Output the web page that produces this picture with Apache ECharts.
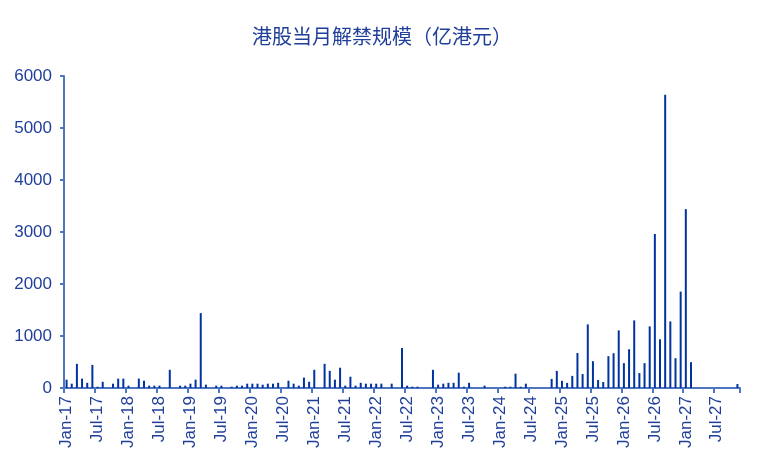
<!DOCTYPE html>
<html>
<head>
<meta charset="utf-8">
<script src="https://cdn.jsdelivr.net/npm/echarts@6/dist/echarts.min.js"></script>
<style>
html,body{margin:0;padding:0;background:#fff;}
#c{width:764px;height:463px;}
</style>
</head>
<body>
<div id="c"></div>
<script>
var title = '港股当月解禁规模（亿港元）';
var years = ['17','18','19','20','21','22','23','24','25','26','27'];
var monthNames = ['Jan','Feb','Mar','Apr','May','Jun','Jul','Aug','Sep','Oct','Nov','Dec'];
var lastYearMonths = 11; // data runs Jan-17 .. Nov-27
var yTicks = [0, 1000, 2000, 3000, 4000, 5000, 6000];

// 亿港元, monthly, Jan-17 .. Nov-27
var unlockValues = [
  160, 83, 465, 180, 100, 445, 25, 120, 0, 83, 180, 180,      // 2017
  45, 0, 180, 140, 45, 45, 45, 0, 350, 0, 45, 45,             // 2018
  83, 160, 1440, 64, 0, 45, 45, 0, 25, 45, 45, 83,            // 2019
  83, 83, 64, 83, 83, 100, 0, 140, 83, 45, 200, 120,          // 2020
  350, 0, 465, 330, 160, 390, 45, 217, 45, 100, 83, 83,       // 2021
  83, 83, 0, 83, 0, 770, 45, 25, 25, 0, 0, 350,               // 2022
  64, 83, 100, 100, 295, 25, 100, 0, 0, 45, 0, 0,             // 2023
  0, 25, 25, 275, 25, 83, 0, 0, 0, 0, 175, 328,               // 2024
  137, 98, 233, 672, 268, 1223, 516, 153, 115, 612, 669, 1108,// 2025
  478, 745, 1300, 287, 478, 1185, 2962, 936, 5640, 1280, 573, 1854, // 2026
  3440, 497, 0, 0, 0, 0, 0, 0, 0, 0, 76                       // 2027
];

var categories = [];
years.forEach(function (y, yi) {
  var n = (yi === years.length - 1) ? lastYearMonths : 12;
  for (var m = 0; m < n; m++) categories.push(monthNames[m] + '-' + y);
});

var textColor = '#1f3f99';
var axisColor = '#4f76c0';
var barColor = '#0033a0';

var chart = echarts.init(document.getElementById('c'), null, {renderer: 'canvas'});
chart.setOption({
  animation: false,
  backgroundColor: '#ffffff',
  title: {
    text: title,
    left: 'center',
    top: 21,
    textStyle: {
      color: textColor,
      fontSize: 20,
      fontWeight: 'normal',
      fontFamily: '"Noto Sans CJK SC", sans-serif'
    }
  },
  grid: {left: 64, right: 24, top: 76, bottom: 75, containLabel: false},
  xAxis: {
    type: 'category',
    data: categories,
    boundaryGap: true,
    axisLine: {show: true, lineStyle: {color: axisColor, width: 2}},
    axisTick: {show: true, interval: 5, length: 5, lineStyle: {color: axisColor, width: 2}},
    axisLabel: {
      interval: 5,
      rotate: 90,
      margin: 8,
      color: textColor,
      fontSize: 17,
      fontFamily: '"Liberation Sans", Arial, sans-serif'
    },
    splitLine: {show: false}
  },
  yAxis: {
    type: 'value',
    min: yTicks[0],
    max: yTicks[yTicks.length - 1],
    interval: 1000,
    axisLine: {show: true, lineStyle: {color: axisColor, width: 2}},
    axisTick: {show: true, length: 4, lineStyle: {color: axisColor, width: 2}},
    axisLabel: {
      margin: 12,
      color: textColor,
      fontSize: 17,
      fontFamily: '"Liberation Sans", Arial, sans-serif',
      formatter: function (v) { return String(v); }
    },
    splitLine: {show: false}
  },
  series: [{
    type: 'bar',
    data: unlockValues,
    barWidth: 2,
    itemStyle: {color: barColor},
    silent: true
  }]
});
</script>
</body>
</html>
